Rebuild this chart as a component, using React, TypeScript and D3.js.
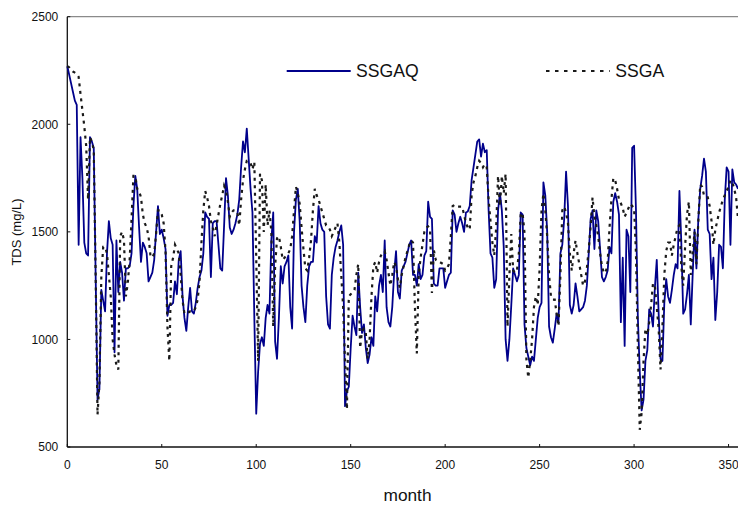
import React from "react";
import * as d3 from "d3";

const ssgaq: number[] = [
  2270, 2230, 2190, 2150, 2110, 2090, 1440, 1940, 1750, 1450,
  1400, 1390, 1940, 1920, 1890, 1300, 720, 770, 1230, 1180,
  1130, 1400, 1550, 1470, 1440, 940, 1460, 1220, 1360, 1310,
  1180, 1330, 1330, 1340, 1400, 1620, 1760, 1700, 1520, 1360,
  1450, 1430, 1400, 1270, 1290, 1310, 1370, 1500, 1620, 1490,
  1510, 1470, 1420, 1110, 1160, 1160, 1170, 1270, 1210, 1370,
  1410, 1200, 1100, 1040, 1150, 1240, 1130, 1120, 1170, 1240,
  1290, 1320, 1400, 1590, 1570, 1560, 1290, 1540, 1550, 1550,
  1440, 1330, 1320, 1530, 1750, 1670, 1520, 1490, 1510, 1540,
  1580, 1650, 1800, 1920, 1870, 1980, 1840, 1700, 1590, 1100,
  655, 850, 980, 1010, 970, 1100, 1160, 1120, 1460, 1590,
  990, 910, 1100, 1340, 1260, 1340, 1360, 1390, 1150, 1050,
  1500, 1650, 1700, 1550, 1250, 1150, 1080, 1250, 1340, 1360,
  1360, 1480, 1450, 1620, 1540, 1510, 1500, 1200, 1070, 1050,
  1300, 1380, 1430, 1460, 1500, 1530, 1440, 690, 760, 780,
  960, 1110, 1060, 1020, 1310, 1150, 1030, 1070, 960, 890,
  930, 1010, 970, 1200, 1130, 1250, 1300, 1220, 1460, 1150,
  1080, 1060, 1150, 1310, 1410, 1220, 1190, 1320, 1340, 1360,
  1400, 1440, 1460, 1300, 1300, 1250, 1350, 1280, 1300, 1390,
  1410, 1640, 1570, 1560, 1260, 1250, 1250, 1330, 1330, 1330,
  1240, 1270, 1300, 1310, 1600, 1580, 1500, 1540, 1570, 1540,
  1500, 1590, 1595, 1620, 1740, 1800, 1860, 1920, 1930, 1850,
  1910, 1870, 1880, 1600, 1400, 1380, 1240, 1280, 1600, 1680,
  1600, 1430, 1000, 900, 1000, 1160, 1330, 1300, 1270, 1300,
  1590, 1580, 1070, 960, 920, 880, 920, 900, 1000, 1100,
  1150, 1170, 1730, 1670, 1500, 1060, 1010, 985, 1050, 1120,
  1080, 1400, 1440, 1560, 1780, 1620, 1160, 1120, 1160, 1260,
  1200, 1130, 1140, 1150, 1180, 1250, 1400, 1560, 1600, 1420,
  1600, 1550, 1420, 1290, 1270, 1290, 1320, 1430, 1400, 1640,
  1680, 1640, 1580, 1080, 1380, 970, 1510, 1480, 1220, 1890,
  1900, 1600, 1100, 850, 670, 720, 900, 950, 1140, 1120,
  1060, 1240, 1370, 1120, 910, 900, 1170, 1280, 1200, 1170,
  1230, 1300, 1350, 1330, 1690, 1450, 1120, 1140, 1210, 1300,
  1070, 1300, 1510, 1330, 1560, 1700, 1760, 1840, 1780, 1510,
  1490, 1280, 1380, 1090, 1220, 1440, 1430, 1330, 1650, 1800,
  1780, 1440, 1790, 1730, 1720, 1700,
];

const ssga: number[] = [
  2270, 2265, 2255, 2245, 2240, 2235, 2220, 2140, 2065, 1990,
  1900, 1650, 1940, 1920, 1880, 1300, 650, 800, 1290, 1430,
  1430, 1400, 1300, 1200, 1000, 930, 880, 860, 1480, 1500,
  1460, 1200, 1260, 1370, 1560, 1760, 1760, 1700, 1690, 1660,
  1580, 1540, 1520, 1480, 1390, 1380, 1400, 1490, 1600, 1600,
  1580, 1540, 1410, 1060, 900, 1340, 1380, 1440, 1420, 1400,
  1300, 1180, 1120, 1120, 1125, 1130, 1130, 1130, 1150, 1185,
  1270, 1450, 1600, 1690, 1660, 1620, 1550, 1520, 1480, 1530,
  1580, 1630, 1670, 1715, 1690, 1640, 1570, 1590, 1600, 1600,
  1590, 1530, 1650, 1740, 1790, 1830, 1830, 1820, 1790, 1825,
  1380, 900, 1770, 1740, 1500, 1720, 1530, 1600, 1500, 1060,
  1340, 1470, 1480, 1430, 1370, 1380, 1390, 1400, 1420, 1480,
  1600, 1710, 1680, 1630, 1520, 1420, 1330, 1320, 1380, 1460,
  1600, 1700, 1670, 1650, 1620, 1590, 1560, 1530, 1525, 1510,
  1480, 1500, 1520, 1540, 1450, 1300, 1150, 900, 675, 1200,
  1210, 1220, 1230, 1300, 1350, 960, 1040, 1050, 1030, 910,
  1000, 1200, 1340, 1360, 1310, 1360, 1390, 1400, 1410, 1370,
  1310, 1250, 1300, 1360, 1340, 1280, 1240, 1300, 1340, 1380,
  1410, 1440, 1460, 1450, 1150, 935, 1300, 1380, 1440, 1500,
  1520, 1525, 1510, 1216, 1416, 1370, 1360, 1360, 1355, 1350,
  1320, 1330, 1350, 1480, 1620, 1625, 1617, 1617, 1617, 1617,
  1580, 1540, 1520, 1510, 1670, 1730, 1760, 1800, 1830, 1820,
  1800, 1815, 1800, 1650, 1550, 1450, 1390, 1520, 1760, 1620,
  1760, 1680, 1770, 1060, 1300, 1490, 1320, 1310, 1320, 1400,
  1586, 1586, 1494, 907, 822, 900, 1000, 1150, 1200, 1160,
  1330, 1600, 1679, 1600, 1480, 1300, 1200, 1185, 1185, 1120,
  1062, 1300, 1600, 1617, 1590, 1540, 1400, 1320, 1400, 1460,
  1400, 1350, 1300, 1250, 1270, 1330, 1420, 1525, 1660, 1570,
  1530, 1480, 1400, 1340, 1310, 1310, 1360, 1520, 1650, 1750,
  1740, 1700, 1650, 1633, 1610, 1570, 1590, 1610, 1630, 1620,
  1610, 1400, 960, 580, 660, 900, 1050, 1020, 1080, 1160,
  1260, 1250, 1150, 1050, 860, 1060, 1300, 1410, 1450, 1450,
  1390, 1440, 1480, 1520, 1530, 1340, 1250, 1430, 1580, 1640,
  1300, 1400, 1500, 1350, 1550, 1720, 1710, 1670, 1660, 1660,
  1620, 1550, 1440, 1510, 1550, 1590, 1620, 1650, 1670, 1690,
  1710, 1740, 1730, 1700, 1660, 1560,
];

const xTicks: number[] = [0, 50, 100, 150, 200, 250, 300, 350];
const yTicks: number[] = [500, 1000, 1500, 2000, 2500];
const seriesNames: string[] = ["SSGAQ", "SSGA"];

const W = 738;
const H = 506;
const left = 67.3;
const right = 738;
const top = 16.7;
const bottom = 447;
const FONT = "'Liberation Sans', Arial, sans-serif";

export default function App() {
  const x = d3.scaleLinear().domain([0, 355]).range([left, right]);
  const y = d3.scaleLinear().domain([500, 2500]).range([bottom, top]);
  const line = d3
    .line<number>()
    .x((_, i) => x(i))
    .y((d) => y(d));

  return (
    <>
      <style>{`body{margin:0;} svg{display:block;}`}</style>
      <svg width={W} height={H} viewBox={`0 0 ${W} ${H}`} style={{ background: "#fff" }}>
        {/* frame */}
        <line x1={left} x2={right} y1={top} y2={top} stroke="#8a8a8a" strokeWidth={1.2} />
        <line x1={left} x2={left} y1={top} y2={bottom} stroke="#111" strokeWidth={1.3} />
        <line x1={left} x2={right} y1={bottom} y2={bottom} stroke="#111" strokeWidth={1.3} />

        {/* y ticks */}
        {yTicks.map((t) => (
          <g key={"y" + t}>
            <line x1={left} x2={left + 3} y1={y(t)} y2={y(t)} stroke="#111" strokeWidth={1} />
            <text
              x={left - 9}
              y={y(t)}
              dy="0.36em"
              textAnchor="end"
              fontFamily={FONT}
              fontSize={12}
              fill="#111"
            >
              {t}
            </text>
          </g>
        ))}

        {/* x ticks */}
        {xTicks.map((t) => (
          <g key={"x" + t}>
            <line x1={x(t)} x2={x(t)} y1={bottom} y2={bottom - 3} stroke="#111" strokeWidth={1} />
            <text
              x={x(t)}
              y={469.3}
              textAnchor="middle"
              fontFamily={FONT}
              fontSize={12}
              fill="#111"
            >
              {t}
            </text>
          </g>
        ))}

        {/* axis titles */}
        <text x={407.5} y={500.7} textAnchor="middle" fontFamily={FONT} fontSize={17.3} fill="#111">
          month
        </text>
        <text
          transform={`translate(20.6, 232) rotate(-90)`}
          textAnchor="middle"
          fontFamily={FONT}
          fontSize={13}
          fill="#111"
        >
          TDS (mg/L)
        </text>

        {/* series */}
        <path d={line(ssgaq) ?? ""} fill="none" stroke="#00008b" strokeWidth={1.8} strokeLinejoin="round" />
        <path
          d={line(ssga) ?? ""}
          fill="none"
          stroke="#1a1a1a"
          strokeWidth={2.2}
          strokeDasharray="3 4.5"
        />

        {/* legend */}
        <line x1={286.7} x2={350.7} y1={71} y2={71} stroke="#00008b" strokeWidth={1.8} />
        <text x={356} y={76.7} fontFamily={FONT} fontSize={17.6} fill="#111">
          {seriesNames[0]}
        </text>
        <line x1={546} x2={609.7} y1={71} y2={71} stroke="#1a1a1a" strokeWidth={2} strokeDasharray="3.5 5.5" />
        <text x={615.3} y={76.7} fontFamily={FONT} fontSize={17.6} fill="#111">
          {seriesNames[1]}
        </text>
      </svg>
    </>
  );
}
